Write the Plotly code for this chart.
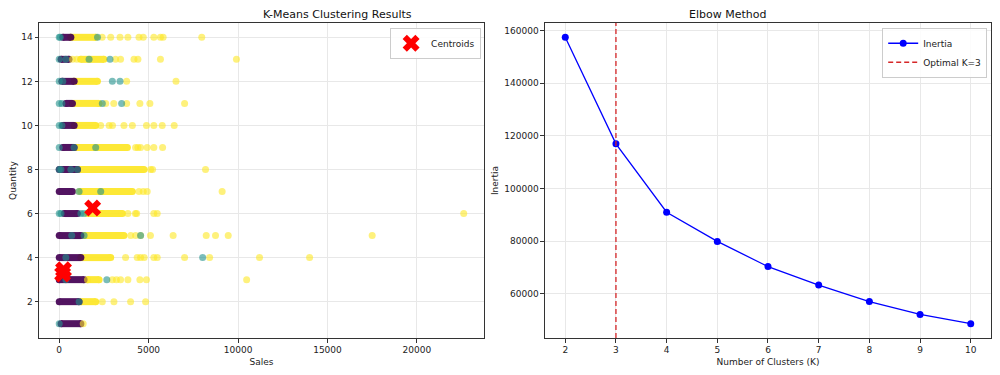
import plotly.graph_objects as go
from plotly.subplots import make_subplots

# ---------------- data ----------------
# Elbow method
k_values = [2, 3, 4, 5, 6, 7, 8, 9, 10]
inertia = [157500, 117000, 91000, 79900, 70300, 63300, 57000, 52100, 48600]
optimal_k = 3

# Dense runs of points (quantity, sales from, sales to) per cluster
c2_band_q = [14, 13, 12, 11, 10, 9, 8, 7, 6, 5, 4, 3, 2]
c2_band_lo = [650, 1200, 835, 740, 835, 930, 1020, 1210, 1580, 1390, 1210, 1580, 1210]
c2_band_hi = [2050, 2500, 2135, 2230, 2040, 3810, 4740, 4090, 3530, 3620, 2880, 2230, 2040]

c0_band_q = [14, 13, 12, 11, 10, 9, 8, 7, 6, 5, 4, 3, 2, 1]
c0_band_lo = [200, 100, 150, 370, 200, 200, 0, 0, 280, 0, 0, 0, 0, 100]
c0_band_hi = [650, 550, 835, 740, 835, 835, 1020, 740, 1020, 1210, 1210, 1390, 1110, 1210]

# Individual points per cluster
c2_pts_q = ([14] * 10 + [13] * 8 + [12] * 2 + [11] * 6 + [10] * 9 + [9] * 6 + [8] * 3
            + [7] * 5 + [6] * 6 + [5] * 9 + [4] * 10 + [3] * 8 + [2] * 4 + [1] * 1)
c2_pts_s = [2400, 2880, 3400, 3840, 4460, 4700, 5290, 5660, 5810, 7970,
            740, 985, 3150, 3430, 4180, 4400, 5660, 9910,
            3770, 6530,
            2600, 3050, 3770, 4510, 5070, 7010,
            2320, 2790, 2980, 3620, 4090, 4880, 5290, 5760, 6430,
            4270, 4400, 4550, 4920, 5290, 5780,
            5110, 5220, 8180,
            1110, 4460, 4700, 4920, 9110,
            3840, 4260, 4330, 5290, 5480, 22620,
            4000, 4270, 4550, 5100, 6370, 8220, 8740, 9450, 17500,
            3710, 4360, 4550, 4750, 5290, 5480, 7010, 8410, 11200, 14000,
            1580, 2970, 3200, 3430, 3840, 4510, 4880, 10480,
            2410, 3060, 3990, 4830,
            1340]

c1_pts_q = ([14] * 3 + [13] * 4 + [12] * 4 + [11] * 4 + [10] * 2 + [9] * 3 + [8] * 4
            + [7] * 2 + [6] * 4 + [5] * 3 + [4] * 2 + [3] * 2 + [2] * 1 + [1] * 1)
c1_pts_s = [0, 60, 2140,
            0, 370, 1670, 2840,
            0, 200, 2970, 3400,
            0, 150, 2410, 3490,
            0, 150,
            0, 830, 2040,
            0, 100, 650, 1020,
            1110, 2320,
            0, 100, 1210, 1390,
            700, 1390, 4550,
            370, 8020,
            370, 2660,
            1110,
            0]

# Centroids
cent_sales = [1870, 190, 240]
cent_qty = [6.25, 3.25, 3.45]

# Tick values
left_xticks = [0, 5000, 10000, 15000, 20000]
left_yticks = [2, 4, 6, 8, 10, 12, 14]
right_yticks = [60000, 80000, 100000, 120000, 140000, 160000]

# ---------------- helpers ----------------
C0, C1, C2 = "#440154", "#21918c", "#fde725"
FONT = "DejaVu Sans"
DOM1 = [0, 0.4674]
DOM2 = [0.5315, 1]


def band_xy(q, lo, hi):
    xs, ys = [], []
    for a, b, c in zip(q, lo, hi):
        xs += [b, c, None]
        ys += [a, a, None]
    return xs, ys


def padded(vmin, vmax, frac=0.05):
    d = (vmax - vmin) * frac
    return [vmin - d, vmax + d]


fig = make_subplots(rows=1, cols=2, horizontal_spacing=0.064)

# left panel bands
for (q, lo, hi, col) in [(c2_band_q, c2_band_lo, c2_band_hi, C2),
                         (c0_band_q, c0_band_lo, c0_band_hi, C0)]:
    bx, by = band_xy(q, lo, hi)
    fig.add_trace(go.Scatter(x=bx, y=by, mode="lines+markers",
                             line=dict(color=col, width=7),
                             marker=dict(color=col, size=7),
                             opacity=0.92, showlegend=False, hoverinfo="skip"),
                  row=1, col=1)

fig.add_trace(go.Scatter(x=c2_pts_s, y=c2_pts_q, mode="markers",
                         marker=dict(color=C2, size=7, opacity=0.6, line=dict(width=0)),
                         showlegend=False), row=1, col=1)
fig.add_trace(go.Scatter(x=c1_pts_s, y=c1_pts_q, mode="markers",
                         marker=dict(color=C1, size=7, opacity=0.6, line=dict(width=0)),
                         showlegend=False), row=1, col=1)
fig.add_trace(go.Scatter(x=cent_sales, y=cent_qty, mode="markers", name="Centroids",
                         marker=dict(color="red", size=15, symbol="x", line=dict(width=0)),
                         legend="legend"), row=1, col=1)

# right panel
fig.add_trace(go.Scatter(x=k_values, y=inertia, mode="lines+markers", name="Inertia",
                         line=dict(color="#0000ff", width=1.3),
                         marker=dict(color="#0000ff", size=7),
                         legend="legend2"), row=1, col=2)

yr2 = padded(min(inertia), max(inertia))
fig.add_trace(go.Scatter(x=[optimal_k, optimal_k], y=yr2, mode="lines",
                         name=f"Optimal K={optimal_k}",
                         line=dict(color="#d62728", width=1.3, dash="5px,3px"),
                         legend="legend2"), row=1, col=2)

all_s = c2_pts_s + c1_pts_s + c0_band_lo + c2_band_hi
all_q = c2_pts_q + c1_pts_q + c0_band_q
xr1 = padded(min(all_s), max(all_s))
yr1 = padded(min(all_q), max(all_q))
xr2 = padded(min(k_values), max(k_values))

axis_common = dict(showline=True, mirror=True, linecolor="#333", linewidth=1,
                   ticks="outside", ticklen=3.5, tickcolor="#333", tickwidth=0.8,
                   showgrid=True, gridcolor="#e8e8e8", gridwidth=0.8, zeroline=False,
                   automargin=False, tickformat="d",
                   tickfont=dict(family=FONT, size=9, color="#222"),
                   title_font=dict(family=FONT, size=9, color="#222"),
                   title_standoff=4)

fig.update_xaxes(axis_common)
fig.update_yaxes(axis_common)

fig.update_xaxes(range=xr1, tickvals=left_xticks, title_text="Sales",
                 domain=DOM1, row=1, col=1)
fig.update_yaxes(range=yr1, tickvals=left_yticks, title_text="Quantity",
                 row=1, col=1)
fig.update_xaxes(range=xr2, tickvals=k_values, title_text="Number of Clusters (K)",
                 domain=DOM2, row=1, col=2)
fig.update_yaxes(range=yr2, tickvals=right_yticks,
                 title_text="Inertia", row=1, col=2)

fig.add_annotation(text="K-Means Clustering Results", x=sum(DOM1) / 2, y=1, xref="paper",
                   yref="paper", yanchor="bottom", showarrow=False, yshift=0,
                   font=dict(family=FONT, size=11, color="#111"))
fig.add_annotation(text="Elbow Method", x=sum(DOM2) / 2, y=1, xref="paper",
                   yref="paper", yanchor="bottom", showarrow=False, yshift=0,
                   font=dict(family=FONT, size=11, color="#111"))

legend_style = dict(bgcolor="rgba(255,255,255,0.85)", bordercolor="#cccccc", borderwidth=1,
                    font=dict(family=FONT, size=9, color="#222"),
                    xanchor="right", yanchor="top", tracegroupgap=0)

# the page body adds an 8px offset, so margins are shifted to compensate
fig.update_layout(
    width=1000, height=375,
    margin=dict(l=31, r=17, t=15, b=45),
    paper_bgcolor="white", plot_bgcolor="white",
    font=dict(family=FONT, size=9, color="#222"),
    legend=dict(x=DOM1[1] - 0.003, y=0.985, **legend_style),
    legend2=dict(x=0.996, y=0.985, **legend_style),
)

fig.write_html("out.html")
